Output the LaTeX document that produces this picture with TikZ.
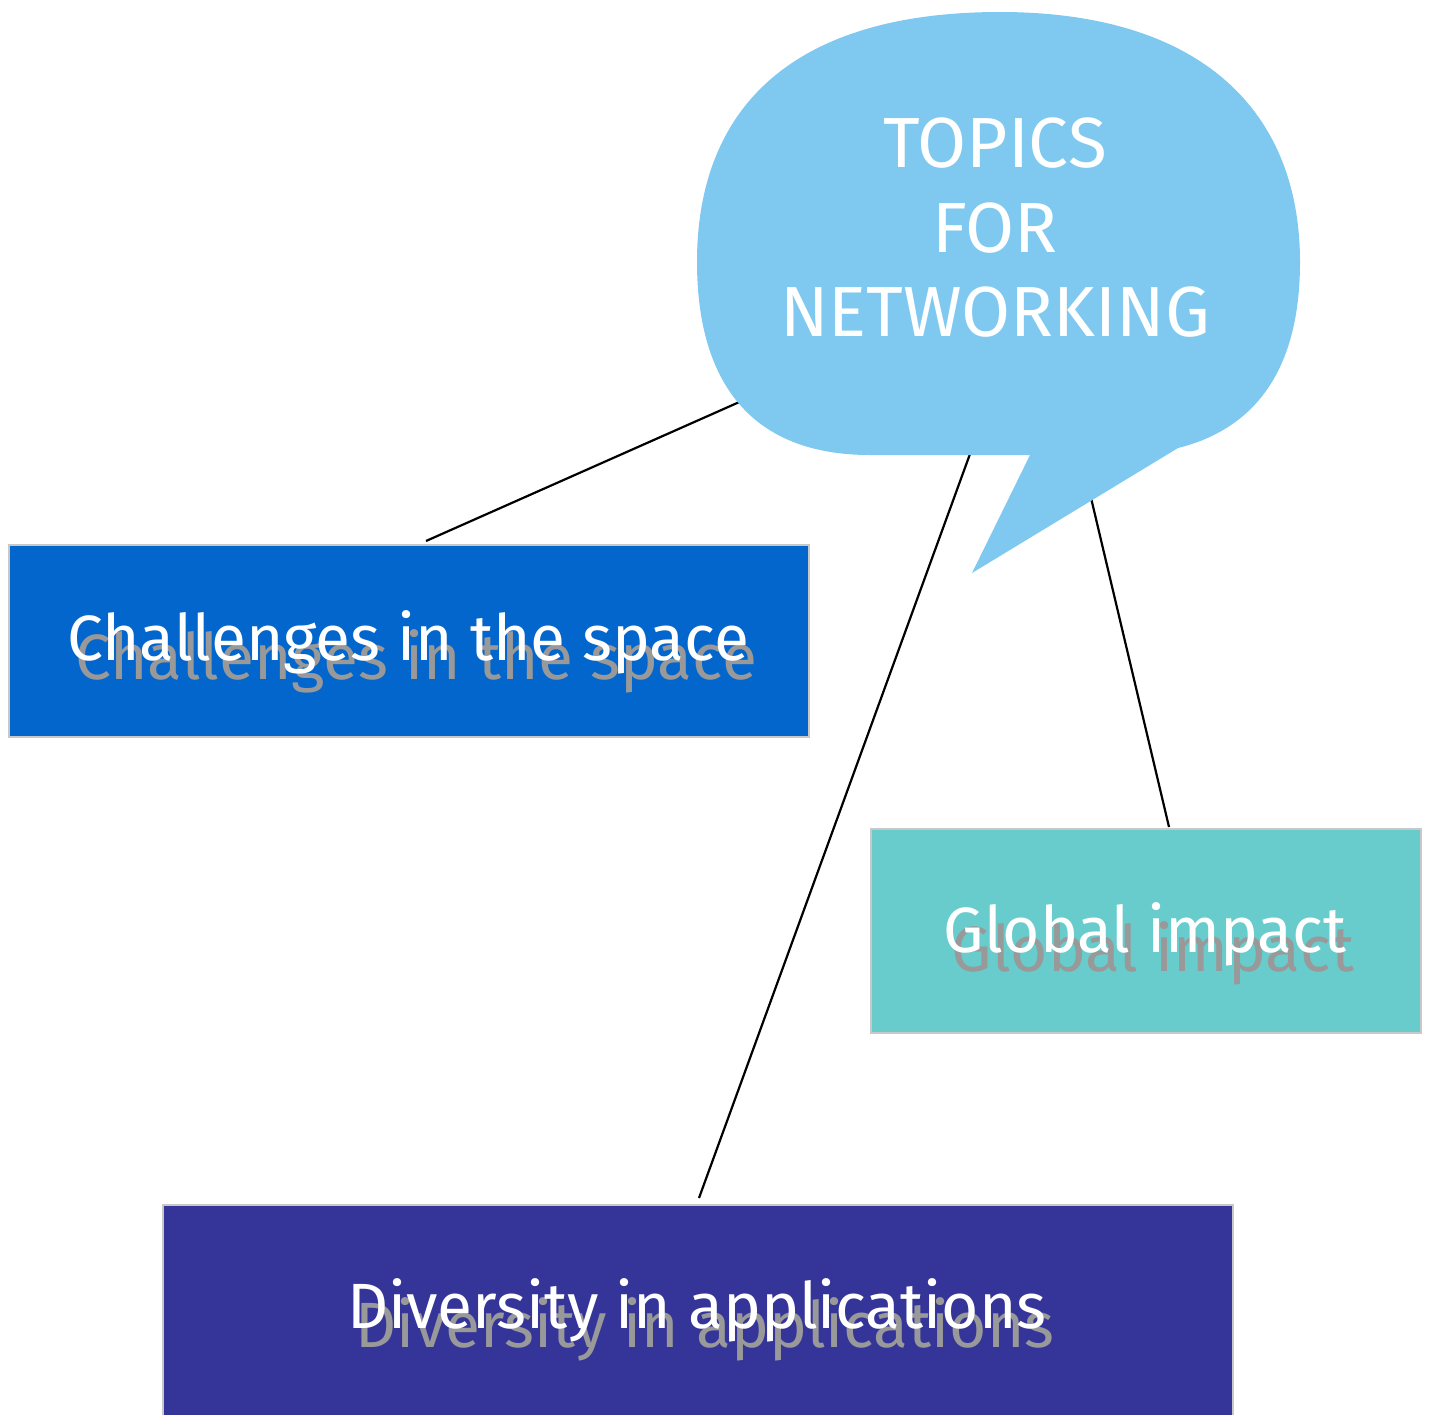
\documentclass[tikz,border=0pt]{standalone}
\usepackage{fontspec}
\setmainfont{Fira Sans}
\usetikzlibrary{calc}
\definecolor{bubblefill}{RGB}{127,201,240}
\definecolor{chfill}{RGB}{3,102,204}
\definecolor{gifill}{RGB}{104,204,204}
\definecolor{dvfill}{RGB}{53,53,153}
\definecolor{boxline}{RGB}{200,200,200}
\definecolor{shadowgray}{RGB}{153,153,153}
\begin{document}
\begin{tikzpicture}[x=1pt,y=-1pt,
  boxnode/.style={draw=boxline, line width=2pt, anchor=north west, inner sep=0pt},
  conn/.style={draw=black, line width=2.2pt},
  lbl/.style={text=white, inner sep=0pt, anchor=base, font=\fontsize{64}{76}\selectfont},
  shadowlbl/.style={text=shadowgray, inner sep=0pt, anchor=base, font=\fontsize{64}{76}\selectfont},
  bubbletext/.style={text=white, align=center, inner sep=0pt, font=\fontsize{71}{84.5}\selectfont}]
\useasboundingbox (0,0) rectangle (1429,1414);
% boxes
\node[boxnode, fill=chfill, minimum width=800pt, minimum height=192pt] (ch) at (8,544) {};
\node[boxnode, fill=gifill, minimum width=550pt, minimum height=204pt] (gi) at (870,828) {};
\node[boxnode, fill=dvfill, minimum width=1070pt, minimum height=230pt] (dv) at (162,1204) {};
% centre of the speech bubble
\coordinate (bub) at (1037,270);
% connectors (bubble drawn on top hides their inner part)
\draw[conn] (bub) -- ($(ch.north)+(17,-3)$);
\draw[conn] (bub) -- ($(dv.north)+(1,-6)$);
\draw[conn] (bub) -- ($(gi.north)+(23,-1)$);
% speech bubble
\fill[bubblefill] (870,455) -- (1030,455) -- (972,573) -- (1178,448)
  .. controls (1270,425) and (1300,350) .. (1300,262)
  .. controls (1300,110) and (1200,12) .. (1000,12)
  .. controls (790,12) and (697,110) .. (697,262)
  .. controls (697,375) and (745,455) .. (870,455) -- cycle;
\node[bubbletext, anchor=center] (topic) at (995,228) {TOPICS\\FOR\\NETWORKING};
% labels with shadow
\node[shadowlbl] (chs) at (416,679) {Challenges in the space};
\node[lbl] (cht) at (408,660) {Challenges in the space};
\node[shadowlbl] (gis) at (1153,971) {Global impact};
\node[lbl] (git) at (1145,952) {Global impact};
\node[shadowlbl] (dvs) at (705,1347) {Diversity in applications};
\node[lbl] (dvt) at (697,1328) {Diversity in applications};
\end{tikzpicture}
\end{document}
